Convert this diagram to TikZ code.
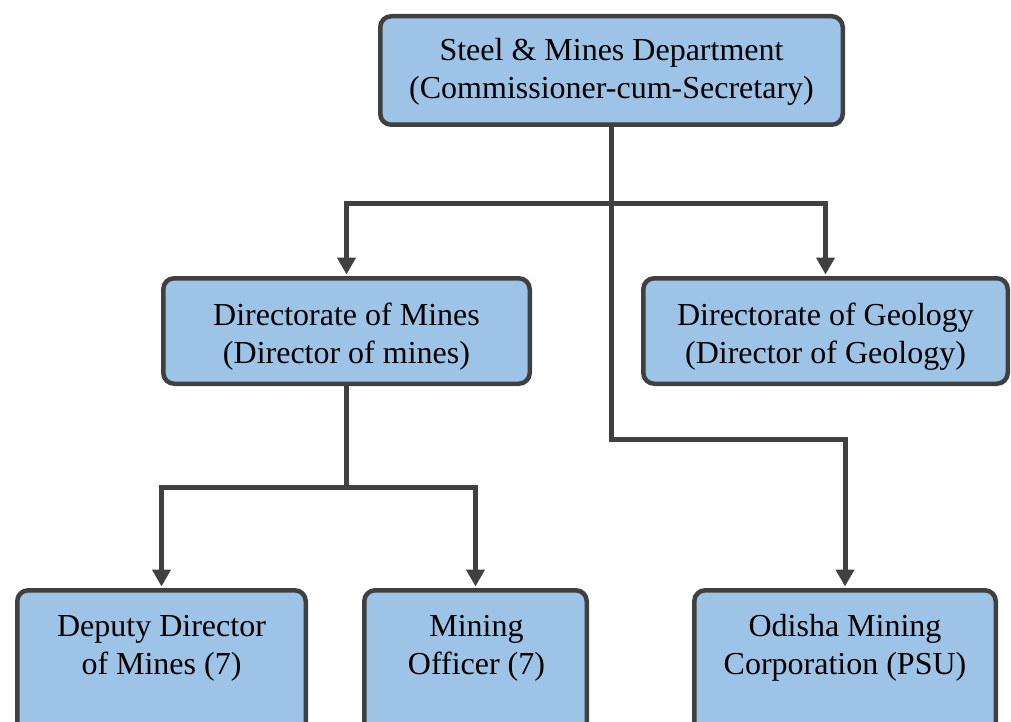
\documentclass[tikz,border=0pt]{standalone}
\usepackage{fontspec}
\setmainfont{Liberation Serif}
\usetikzlibrary{arrows.meta}
\definecolor{boxfill}{HTML}{9DC3E6}
\definecolor{edgegray}{HTML}{404040}
\begin{document}
\begin{tikzpicture}[x=1pt,y=-1pt,
  box/.style={draw=edgegray, line width=4.5pt, fill=boxfill, rounded corners=11pt,
    inner sep=0pt, font=\fontsize{32}{38}\selectfont, align=center},
  txt/.style={inner sep=0pt, font=\fontsize{32}{38}\selectfont, align=center},
  conn/.style={draw=edgegray, line width=5pt, line join=miter},
  arr/.style={conn, -{Triangle[width=18pt 0,length=17pt 0]}, shorten >=1.5pt}]
\useasboundingbox (0,0) rectangle (1011,722);
\clip (0,0) rectangle (1011,722);
\node[box, minimum width=462.5pt, minimum height=108.5pt] (top) at (611.5,70.5) {};
\node[box, minimum width=366.5pt, minimum height=105.5pt] (dom) at (346.5,331) {};
\node[box, minimum width=364.5pt, minimum height=105.5pt] (geo) at (825.5,331) {};
\node[box, minimum width=288.5pt, minimum height=147.5pt] (dd) at (161.5,664) {};
\node[box, minimum width=222.5pt, minimum height=147.5pt] (mo) at (475.5,664) {};
\node[box, minimum width=301.5pt, minimum height=147.5pt] (omc) at (845,664) {};
\node[txt] (topt) at (611.5,72) {Steel \& Mines Department\\(Commissioner-cum-Secretary)};
\node[txt] (domt) at (346.5,337) {Directorate of Mines\\(Director of mines)};
\node[txt] (geot) at (825.5,337) {Directorate of Geology\\(Director of Geology)};
\node[txt] (ddt) at (161.5,648) {Deputy Director\\of Mines (7)};
\node[txt] (mot) at (476.5,648) {Mining\\Officer (7)};
\node[txt] (omct) at (845,648) {Odisha Mining\\Corporation (PSU)};
\coordinate (j1) at (611.5,203);
\coordinate (j2) at (611.5,439);
\coordinate (j3) at (346.5,487);
\draw[conn] (top.south) -- (j1);
\draw[arr] (j1) -| (dom.north);
\draw[arr] (j1) -| (geo.north);
\draw[arr] (j1) -- (j2) -| (omc.north);
\draw[conn] (dom.south) -- (j3);
\draw[arr] (j3) -| (dd.north);
\draw[arr] (j3) -| (mo.north);
\end{tikzpicture}
\end{document}
